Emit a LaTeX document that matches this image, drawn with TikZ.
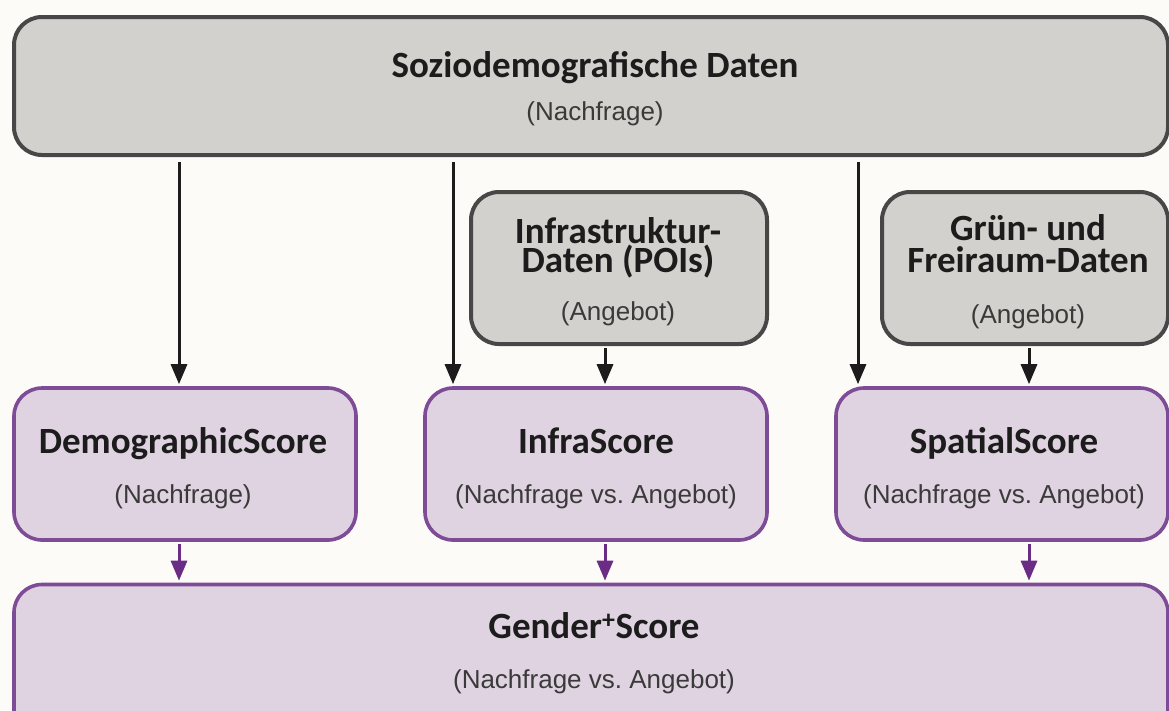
\documentclass[tikz,border=0pt]{standalone}
\usepackage{fontspec}
\setmainfont{Liberation Sans}
\newfontfamily\titlefont{Carlito}
\usetikzlibrary{arrows.meta}
\frenchspacing
\definecolor{bg}{HTML}{FCFBF7}
\definecolor{grayfill}{HTML}{D2D1CD}
\definecolor{grayline}{HTML}{474747}
\definecolor{purfill}{HTML}{E0D3E1}
\definecolor{purline}{HTML}{7E4B97}
\definecolor{purarrow}{HTML}{6A2C84}
\definecolor{txt}{HTML}{1C1C1C}
\definecolor{subtxt}{HTML}{3A3A3A}
\tikzset{
  graybox/.style={draw=grayline, fill=grayfill, line width=4pt, rounded corners=28pt, inner sep=0pt},
  purbox/.style={draw=purline, fill=purfill, line width=3.6pt, rounded corners=28pt, inner sep=0pt},
  ttl/.style={anchor=base, inner sep=0pt, align=center, text=txt, font=\titlefont\bfseries\fontsize{37}{30}\selectfont},
  sub/.style={anchor=base, inner sep=0pt, text=subtxt, font=\fontsize{26}{30}\selectfont},
  blackarrow/.style={draw=txt, line width=3pt, -{Triangle[length=20pt,width=16pt]}},
  purplearrow/.style={draw=purarrow, line width=3pt, -{Triangle[length=20pt,width=16pt]}},
}
\begin{document}
\begin{tikzpicture}[x=1pt,y=-1pt]
\useasboundingbox (0,0) rectangle (1169,710);
\fill[bg] (0,0) rectangle (1169,710);
\clip (0,0) rectangle (1169,710);
% boxes
\node[graybox, minimum width=1154, minimum height=138] (sozio) at (591,86) {};
\node[graybox, minimum width=296, minimum height=152] (infra) at (619,268) {};
\node[graybox, minimum width=286, minimum height=152] (gruen) at (1025,268) {};
\node[purbox, minimum width=342, minimum height=152] (demo) at (185,464) {};
\node[purbox, minimum width=342, minimum height=152] (iscore) at (596,464) {};
\node[purbox, minimum width=332, minimum height=152] (spatial) at (1002,464) {};
\node[purbox, minimum width=1154, minimum height=175] (gender) at (591,672) {};
% texts
\node[ttl] (t1) at (595,77) {Soziodemografische Daten};
\node[sub] (s1) at (595,120) {(Nachfrage)};
\node[ttl, font=\titlefont\bfseries\fontsize{37}{29}\selectfont] (t2) at (618,272) {Infrastruktur-\\Daten (POIs)};
\node[sub] (s2) at (618,320) {(Angebot)};
\node[ttl, font=\titlefont\bfseries\fontsize{37}{32}\selectfont] (t3) at (1028,272) {Grün- und\\Freiraum-Daten};
\node[sub] (s3) at (1028,323) {(Angebot)};
\node[ttl] (t4) at (183,453) {DemographicScore};
\node[sub] (s4) at (183,503) {(Nachfrage)};
\node[ttl] (t5) at (596,453) {InfraScore};
\node[sub] (s5) at (596,503) {(Nachfrage vs. Angebot)};
\node[ttl] (t6) at (1004,453) {SpatialScore};
\node[sub] (s6) at (1004,503) {(Nachfrage vs. Angebot)};
\node[ttl] (t7) at (594,638) {Gender\textsuperscript{+}Score};
\node[sub] (s7) at (594,688) {(Nachfrage vs. Angebot)};
% arrow columns
\coordinate (c1) at (179,0);
\coordinate (c2) at (453,0);
\coordinate (c3) at (858,0);
\coordinate (c4) at (605,0);
\coordinate (c5) at (1029,0);
% arrows
\draw[blackarrow, shorten <=5pt, shorten >=2pt] (sozio.south -| c1) -- (demo.north -| c1);
\draw[blackarrow, shorten <=5pt, shorten >=2pt] (sozio.south -| c2) -- (iscore.north -| c2);
\draw[blackarrow, shorten <=5pt, shorten >=2pt] (sozio.south -| c3) -- (spatial.north -| c3);
\draw[blackarrow, shorten <=2pt, shorten >=2pt] (infra.south -| c4) -- (iscore.north -| c4);
\draw[blackarrow, shorten <=2pt, shorten >=2pt] (gruen.south -| c5) -- (spatial.north -| c5);
\draw[purplearrow, shorten <=2pt, shorten >=2pt] (demo.south -| c1) -- (gender.north -| c1);
\draw[purplearrow, shorten <=2pt, shorten >=2pt] (iscore.south -| c4) -- (gender.north -| c4);
\draw[purplearrow, shorten <=2pt, shorten >=2pt] (spatial.south -| c5) -- (gender.north -| c5);
\end{tikzpicture}
\end{document}
